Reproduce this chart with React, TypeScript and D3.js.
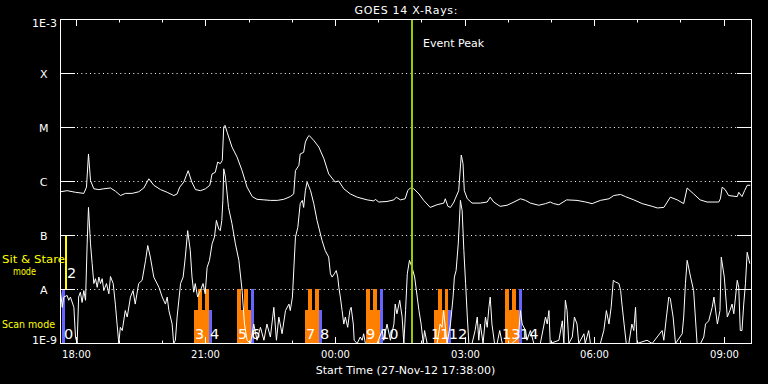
import React from "react";
import * as d3 from "d3";

const TITLE = "GOES 14 X-Rays:";
const XTITLE = "Start Time (27-Nov-12 17:38:00)";
const levelNames = ["1E-9", "A", "B", "C", "M", "X", "1E-3"];
const levelExp = [-9, -8, -7, -6, -5, -4, -3];
const majorTickLabels = ["18:00", "21:00", "00:00", "03:00", "06:00", "09:00"];
const firstTickHour = 22 / 60; // 18:00 after 17:38 start
const eventPeakHour = 8.15;

// GOES long channel (1-8 A): hours since 17:38, log10 flux
const longT = [0,0.154,0.347,0.54,0.602,0.648,0.695,0.772,0.888,1.003,1.157,1.273,1.389,1.505,1.659,1.813,1.929,2.045,2.16,2.316,2.47,2.624,2.7,2.76,2.855,2.956,3.04,3.126,3.242,3.357,3.457,3.51,3.584,3.64,3.7,3.746,3.78,3.81,3.86,3.97,4.09,4.205,4.32,4.44,4.55,4.71,4.86,5.02,5.17,5.32,5.4,5.44,5.52,5.55,5.63,5.67,5.73,5.76,5.865,5.98,6.1,6.21,6.36,6.44,6.56,6.71,6.87,7.1,7.255,7.29,7.37,7.56,7.72,7.775,7.87,7.98,8.04,8.1,8.18,8.3,8.41,8.56,8.72,8.875,8.91,8.97,9.03,9.11,9.14,9.22,9.26,9.28,9.32,9.35,9.42,9.53,9.72,9.88,9.95,10.03,10.18,10.34,10.5,10.65,10.77,10.88,11.075,11.23,11.34,11.42,11.54,11.72,11.96,12.16,12.31,12.5,12.7,12.81,12.97,13.08,13.275,13.47,13.7,13.82,13.97,14.05,14.12,14.28,14.43,14.51,14.55,14.66,14.81,14.97,15.24,15.28,15.32,15.39,15.47,15.67,15.705,15.78,15.84,15.9,15.97];
const longE = [-6.19,-6.17,-6.2,-6.22,-6.105,-5.49,-5.98,-6.135,-6.15,-6.135,-6.12,-6.18,-6.26,-6.22,-6.22,-6.19,-6.12,-5.95,-6.07,-6.15,-6.2,-6.26,-6.23,-6.105,-6.01,-5.8,-6.01,-6.15,-6.17,-6.135,-6.07,-5.86,-5.83,-5.64,-5.67,-5.61,-4.99,-4.96,-5.09,-5.36,-5.55,-5.8,-6.105,-6.28,-6.33,-6.34,-6.35,-6.35,-6.33,-6.28,-6.23,-5.8,-5.7,-5.49,-5.46,-5.27,-5.17,-5.15,-5.24,-5.36,-5.58,-5.86,-6.01,-5.99,-6.135,-6.23,-6.29,-6.34,-6.36,-6.33,-6.38,-6.37,-6.34,-6.29,-6.34,-6.32,-6.17,-6.12,-6.135,-6.23,-6.35,-6.48,-6.43,-6.4,-6.32,-6.46,-6.48,-6.38,-6.32,-6.17,-5.73,-5.51,-5.67,-6.17,-6.32,-6.4,-6.4,-6.38,-6.29,-6.38,-6.46,-6.44,-6.38,-6.32,-6.35,-6.4,-6.44,-6.41,-6.38,-6.41,-6.43,-6.34,-6.35,-6.38,-6.41,-6.35,-6.32,-6.26,-6.24,-6.28,-6.34,-6.41,-6.46,-6.49,-6.48,-6.38,-6.29,-6.34,-6.41,-6.12,-6.15,-6.23,-6.34,-6.38,-6.38,-6.32,-6.105,-6.15,-6.26,-6.28,-6.2,-6.28,-6.17,-6.07,-6.07];

// GOES short channel (0.5-4 A)
const shortT = [0,0.04,0.077,0.154,0.19,0.23,0.31,0.347,0.386,0.42,0.46,0.5,0.54,0.58,0.617,0.648,0.695,0.733,0.772,0.81,0.85,0.888,0.926,0.965,1.003,1.065,1.12,1.157,1.22,1.27,1.31,1.35,1.385,1.43,1.5,1.545,1.62,1.68,1.73,1.81,1.89,1.97,2.02,2.08,2.16,2.28,2.355,2.43,2.47,2.51,2.585,2.62,2.66,2.7,2.78,2.84,2.89,2.945,3.005,3.045,3.085,3.12,3.175,3.24,3.3,3.35,3.395,3.45,3.51,3.565,3.61,3.665,3.7,3.735,3.76,3.78,3.82,3.89,3.97,4.05,4.13,4.205,4.26,4.32,4.4,4.475,4.55,4.63,4.71,4.78,4.86,4.94,5.0,5.055,5.13,5.21,5.29,5.32,5.37,5.44,5.495,5.55,5.6,5.63,5.67,5.71,5.79,5.865,5.94,6.055,6.13,6.21,6.25,6.29,6.34,6.385,6.42,6.445,6.48,6.52,6.56,6.595,6.65,6.7,6.73,6.78,6.8,6.87,6.94,6.985,7.02,7.06,7.33,7.45,7.485,7.56,7.64,7.72,7.75,7.79,7.855,7.91,7.95,7.99,8.03,8.08,8.14,8.2,8.26,8.3,8.35,8.4,8.43,8.49,8.72,8.79,8.835,8.87,8.95,9.03,9.09,9.12,9.16,9.21,9.26,9.3,9.34,9.38,9.42,9.455,9.53,9.6,9.65,9.685,9.72,9.785,9.84,9.88,9.92,9.95,9.99,10.05,10.11,10.17,10.23,10.45,10.6,10.65,10.69,10.77,10.8,10.88,10.96,11.11,11.23,11.27,11.31,11.34,11.54,11.62,11.655,11.69,11.73,11.77,11.85,11.9,11.96,12.0,12.12,12.15,12.23,12.27,12.5,12.58,12.64,12.7,12.75,12.8,12.85,12.93,12.97,13.0,13.05,13.1,13.16,13.23,13.275,13.315,13.35,13.58,13.7,13.93,13.97,14.03,14.085,14.12,14.185,14.24,14.395,14.43,14.47,14.51,14.59,14.66,14.7,14.74,14.82,14.895,14.935,15.01,15.09,15.13,15.21,15.27,15.3,15.37,15.44,15.5,15.55,15.59,15.67,15.705,15.74,15.78,15.82,15.86,15.9,15.96];
const shortE = [-8.02,-8.33,-8.14,-8.11,-8.2,-8.14,-8.33,-8.88,-9,-8.14,-8.05,-8.24,-8.02,-8.2,-7.155,-6.48,-7.155,-7.52,-7.89,-7.8,-7.96,-7.77,-7.89,-7.8,-8.02,-7.89,-8.08,-7.76,-7.89,-8.27,-8.64,-9,-8.7,-8.76,-8.39,-8.51,-8.14,-8.02,-8.27,-7.89,-7.83,-7.46,-7.185,-7.4,-7.77,-7.96,-8.14,-8.27,-8.14,-8.39,-8.64,-9,-8.94,-8.51,-7.89,-7.77,-7.4,-6.91,-7.28,-7.77,-8.05,-7.89,-8.14,-8.02,-7.89,-8.08,-7.59,-7.46,-7.155,-7.03,-6.72,-6.88,-6.91,-6.72,-6.35,-5.765,-5.92,-6.48,-6.78,-7.155,-7.46,-8.02,-8.64,-8.94,-9,-8.64,-8.94,-8.7,-8.94,-8.64,-8.88,-8.33,-8.94,-8.51,-8.82,-8.39,-8.27,-8.39,-8.14,-7.03,-6.85,-6.41,-6.35,-6.48,-6.17,-6.01,-6.17,-6.41,-6.72,-7.09,-7.28,-7.4,-7.71,-7.77,-7.71,-7.65,-7.77,-7.96,-8.14,-8.39,-8.64,-8.51,-8.7,-8.39,-8.33,-8.64,-8.94,-9,-8.88,-8.94,-8.82,-9,-9,-8.76,-8.94,-8.64,-8.94,-8.64,-8.27,-8.45,-8.2,-8.51,-9,-8.39,-7.71,-7.46,-7.59,-7.77,-8.14,-8.39,-8.64,-9,-8.76,-9,-9,-8.64,-8.7,-8.39,-9,-8.64,-8.14,-7.77,-7.65,-7.155,-6.35,-6.54,-7.28,-7.89,-8.51,-9,-9,-8.76,-8.51,-8.94,-8.64,-9,-8.51,-8.7,-8.33,-8.14,-8.64,-9,-9,-8.76,-9,-9,-8.9,-8.39,-8.64,-8.76,-8.94,-8.76,-9,-9,-8.51,-8.64,-8.39,-9,-8.94,-8.58,-9,-8.2,-8.39,-9,-8.88,-8.51,-8.64,-9,-8.82,-9,-8.76,-9,-9,-8.76,-8.39,-8.64,-8.33,-7.83,-7.86,-7.89,-8.02,-8.27,-8.64,-9,-9,-8.64,-8.76,-8.33,-9,-8.94,-9,-8.76,-8.94,-8.51,-8.14,-8.17,-8.51,-9,-8.82,-8.51,-7.89,-7.46,-7.77,-8.02,-8.51,-9,-9,-8.88,-8.64,-8.58,-8.33,-8.14,-8.64,-8.39,-7.4,-7.77,-8.51,-8.39,-8.27,-8.45,-7.83,-7.96,-8.76,-8.76,-8.27,-7.89,-7.31,-7.52];

// Observing-mode bars (hours since start)
const scanBlocks = [[3.103,3.45],[4.098,4.423],[5.673,5.997],[7.085,7.41],[8.66,8.984],[10.304,10.628]];
const scanSpikes = [[3.195,3.288],[3.357,3.45],[4.098,4.191],[4.26,4.353],[5.742,5.835],[5.904,5.997],[7.085,7.178],[7.247,7.34],[8.752,8.845],[8.915,8.984],[10.304,10.397],[10.466,10.559]];
const blueBars = [[0.046,0.116,-8],[3.45,3.52,-8.39],[4.423,4.492,-8],[5.997,6.067,-8.39],[7.41,7.479,-8],[8.984,9.053,-8.39],[10.628,10.697,-8]];
const stareBars = [[0.116,0.162]];
const scanBlockTopExp = -8.39;
const modeLabels = ["0","2","3","4","5","6","7","8","9","10","11","12","13","14"];
const modeLabelT = [0.09,0.162,3.126,3.473,4.122,4.423,5.696,6.02,7.085,7.41,8.59,9.0,10.235,10.65];
const modeLabelRow = [0,1,0,0,0,0,0,0,0,0,0,0,0,0];

const FONT = "DejaVu Sans, sans-serif";
const ORANGE = "#ff8000";
const BLUE = "#6666ff";
const YELLOW = "#ffff00";
const GREEN = "#99cc00";

export default function App() {
  const L = 60, R = 751, T = 19, B = 343;
  const x = d3.scaleLinear().domain([0, 16]).range([L, R]);
  const y = d3.scaleLog().domain([1e-9, 1e-3]).range([B, T]);
  const ye = (e: number) => y(Math.pow(10, Math.max(-9, e)));

  const line = d3.line<[number, number]>()
    .x(d => x(d[0]) + 0.5)
    .y(d => ye(d[1]) + 0.5);
  const longPts = longT.map((t, i) => [t, longE[i]] as [number, number]);
  const shortPts = shortT.map((t, i) => [t, shortE[i]] as [number, number]);

  const hourTicks = d3.range(16).map(i => firstTickHour + i);
  const rx = (t: number) => Math.round(x(t));
  const bar = (t0: number, t1: number, e0: number, e1: number, fill: string, key: string) => {
    const x0 = rx(t0), x1 = rx(t1);
    const y0 = Math.round(ye(e1)), y1 = Math.round(ye(e0));
    return <rect key={key} x={x0} y={y0} width={Math.max(1, x1 - x0)} height={y1 - y0 + 1} fill={fill} />;
  };

  return (
    <div style={{ position: "fixed", left: 0, top: 0, width: 768, height: 384, background: "#000" }}>
      <svg width={768} height={384} style={{ display: "block" }} fontFamily={FONT}>
        <defs>
          <clipPath id="plotclip">
            <rect x={L} y={T} width={R - L + 1} height={B - T + 1} />
          </clipPath>
        </defs>
        <rect x={0} y={0} width={768} height={384} fill="#000" />

        {/* grid dotted lines */}
        {levelExp.slice(1, 6).map(e => (
          <line key={"g" + e} x1={77} x2={737} y1={ye(e) + 0.5} y2={ye(e) + 0.5}
            stroke="#fff" strokeWidth={1} strokeDasharray="1 3.33" />
        ))}

        {/* mode bars */}
        <g>
          {scanBlocks.map((b, i) => bar(b[0], b[1], -9, scanBlockTopExp, ORANGE, "sb" + i))}
          {scanSpikes.map((b, i) => bar(b[0], b[1], -9, -8, ORANGE, "ss" + i))}
          {blueBars.map((b, i) => bar(b[0], b[1], -9, b[2], BLUE, "bb" + i))}
          {stareBars.map((b, i) => bar(b[0], b[1], -8, -7, YELLOW, "st" + i))}
        </g>

        {/* curves */}
        <g clipPath="url(#plotclip)">
          <path d={line(longPts) || ""} fill="none" stroke="#fff" strokeWidth={1} />
          <path d={line(shortPts) || ""} fill="none" stroke="#fff" strokeWidth={1} />
        </g>

        {/* mode labels */}
        {modeLabels.map((s, i) => (
          <text key={"ml" + i} x={x(modeLabelT[i])} y={modeLabelRow[i] === 0 ? 339 : 278}
            fill="#fff" fontSize={14.5}>{s}</text>
        ))}

        {/* event peak */}
        <rect x={Math.round(x(eventPeakHour)) - 1} y={T} width={2} height={B - T} fill={GREEN} />
        <text x={423} y={46.5} fill="#fff" fontSize={11}>Event Peak</text>

        {/* axes frame */}
        <rect x={L + 0.5} y={T + 0.5} width={R - L} height={B - T} fill="none" stroke="#fff" strokeWidth={1} />

        {/* y ticks */}
        {levelExp.map(e => (
          <g key={"yt" + e}>
            <line x1={L} x2={L + 15} y1={ye(e) + 0.5} y2={ye(e) + 0.5} stroke="#fff" />
            <line x1={R - 14} x2={R + 1} y1={ye(e) + 0.5} y2={ye(e) + 0.5} stroke="#fff" />
          </g>
        ))}
        {/* x ticks */}
        {hourTicks.map((h, i) => {
          const major = i % 3 === 0;
          const xx = rx(h) + 0.5;
          return (
            <g key={"xt" + i}>
              <line x1={xx} x2={xx} y1={T} y2={T + (major ? 7 : 3.5)} stroke="#fff" />
              <line x1={xx} x2={xx} y1={B + 1} y2={B + 1 - (major ? 7 : 3.5)} stroke="#fff" />
            </g>
          );
        })}

        {/* y labels */}
        {levelNames.map((n, i) => {
          const e = levelExp[i];
          if (n.startsWith("1E")) {
            return <text key={"yl" + n} x={57} y={e === -3 ? 27 : 343.5} textAnchor="end" fill="#fff" fontSize={11}>{n}</text>;
          }
          return <text key={"yl" + n} x={43.7} y={ye(e) + 4.5} textAnchor="middle" fill="#fff" fontSize={11}>{n}</text>;
        })}

        {/* x labels */}
        {majorTickLabels.map((s, i) => (
          <text key={"xl" + i} x={rx(firstTickHour + 3 * i) + 0.5} y={358} textAnchor="middle" fill="#fff" fontSize={10}>{s}</text>
        ))}
        <text x={(L + R) / 2} y={374} textAnchor="middle" fill="#fff" fontSize={11}>{XTITLE}</text>
        <text x={(L + R) / 2 + 0.5} y={14} textAnchor="middle" fill="#fff" fontSize={11} textLength={103} lengthAdjust="spacing">{TITLE}</text>

        {/* mode legend */}
        <text x={2} y={263} fill={YELLOW} fontSize={11} textLength={63} lengthAdjust="spacingAndGlyphs">Sit &amp; Stare</text>
        <text x={13} y={275} fill={YELLOW} fontSize={11} textLength={23} lengthAdjust="spacingAndGlyphs">mode</text>
        <text x={2} y={328} fill={YELLOW} fontSize={11} textLength={53} lengthAdjust="spacingAndGlyphs">Scan mode</text>
      </svg>
    </div>
  );
}
